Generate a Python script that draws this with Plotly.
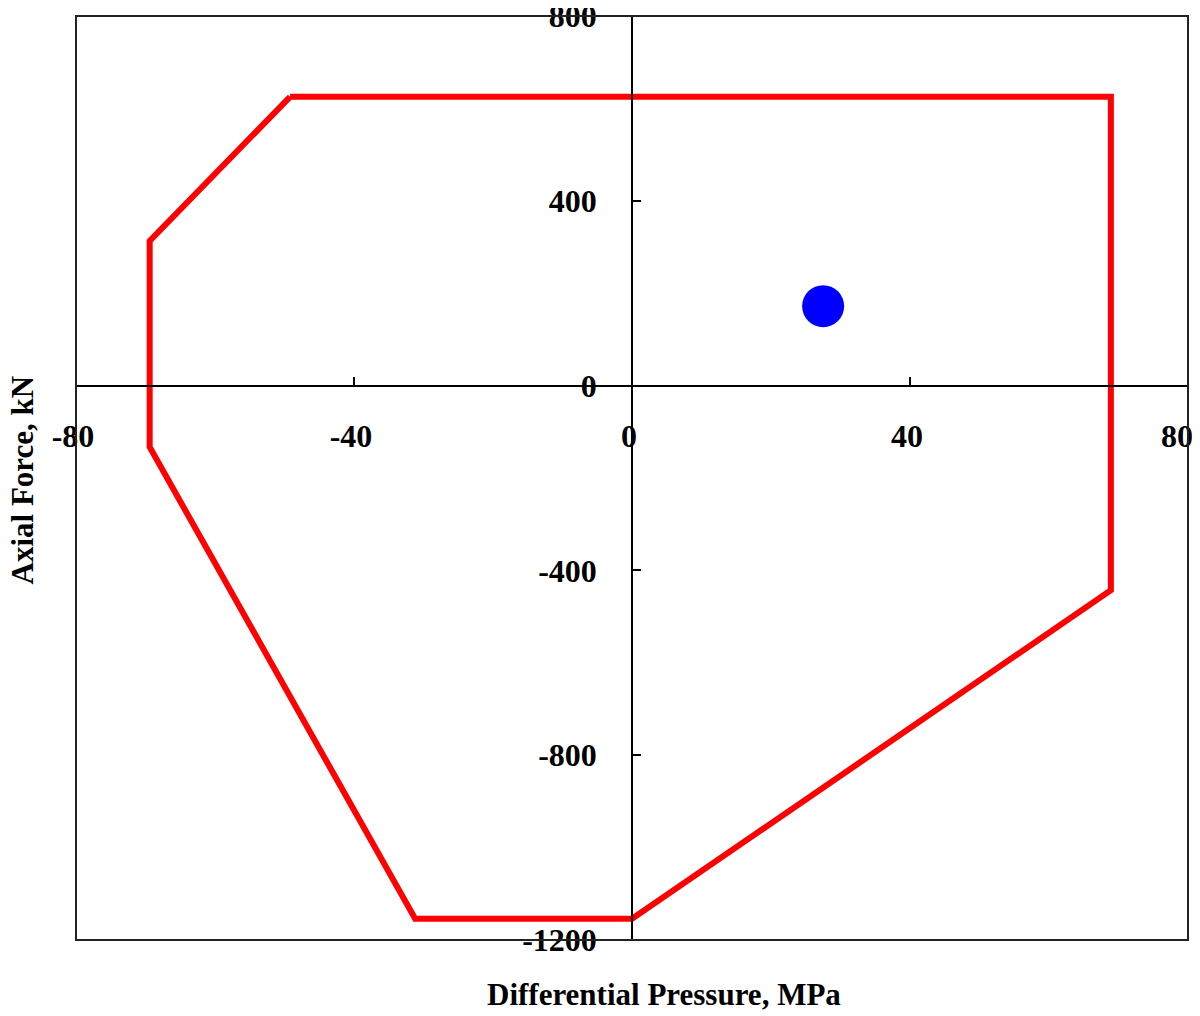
import plotly.graph_objects as go

# Envelope polygon (Differential Pressure, MPa ; Axial Force, kN)
envelope_pressure = [-49.2, 68.9, 68.9, 0.0, -31.2, -69.4, -69.4, -49.2]
envelope_force = [625, 625, -443, -1154, -1154, -133, 313, 625]

# Operating point
point_pressure = [27.5]
point_force = [172]

x_ticks = [-80, -40, 0, 40, 80]
x_labels = ["-80", "-40", "0", "40", "80\u00a0\u00a0"]
y_ticks = [-1200, -800, -400, 0, 400, 800]

FONT = "Liberation Serif"

fig = go.Figure()
fig.add_trace(go.Scatter(
    x=envelope_pressure, y=envelope_force, mode="lines",
    line=dict(color="#ff0000", width=6), showlegend=False, cliponaxis=False,
))
fig.add_trace(go.Scatter(
    x=point_pressure, y=point_force, mode="markers",
    marker=dict(color="#0000ff", size=42, line=dict(width=0)), showlegend=False,
))

# page body has an 8px default margin, so the figure is offset by (8, 8)
fig.update_layout(
    width=1192, height=1008,
    margin=dict(l=68, r=12, t=8, b=76, autoexpand=False),
    paper_bgcolor="white", plot_bgcolor="white",
    font=dict(family=FONT, size=32, color="black"),
    xaxis=dict(
        range=[-80, 80], tickvals=x_ticks, ticktext=x_labels,
        showgrid=False, zeroline=False, showline=True, linecolor="black", linewidth=1.5,
        ticks="inside", ticklen=8, tickwidth=1.5, tickcolor="black",
        anchor="free", position=0.6, ticklabelstandoff=22, ticklabelshift=-3,
        automargin=False, ticklabeloverflow="allow",
        tickfont=dict(family=FONT, size=32, color="black", weight="bold"),
    ),
    yaxis=dict(
        range=[-1200, 800], tickvals=y_ticks, ticktext=[str(v) for v in y_ticks],
        showgrid=False, zeroline=False, showline=True, linecolor="black", linewidth=1.5,
        ticks="inside", ticklen=8, tickwidth=1.5, tickcolor="black",
        anchor="free", position=0.5, ticklabelstandoff=28, automargin=False,
        ticklabeloverflow="allow",
        tickfont=dict(family=FONT, size=32, color="black", weight="bold"),
    ),
    shapes=[dict(type="rect", xref="paper", yref="paper", x0=0, y0=0, x1=1, y1=1,
                 line=dict(color="#222222", width=2), fillcolor="rgba(0,0,0,0)", layer="above")],
    annotations=[
        dict(text="<b>Differential Pressure, MPa</b>", xref="paper", yref="paper",
             x=0.529, y=-0.0595, xanchor="center", yanchor="middle", showarrow=False,
             font=dict(family=FONT, size=31, color="black")),
        dict(text="<b>Axial Force, kN</b>", xref="paper", yref="paper",
             x=-0.048, y=0.498, xanchor="center", yanchor="middle", showarrow=False,
             textangle=-90, font=dict(family=FONT, size=31, color="black")),
    ],
)

fig.write_html("out.html")
